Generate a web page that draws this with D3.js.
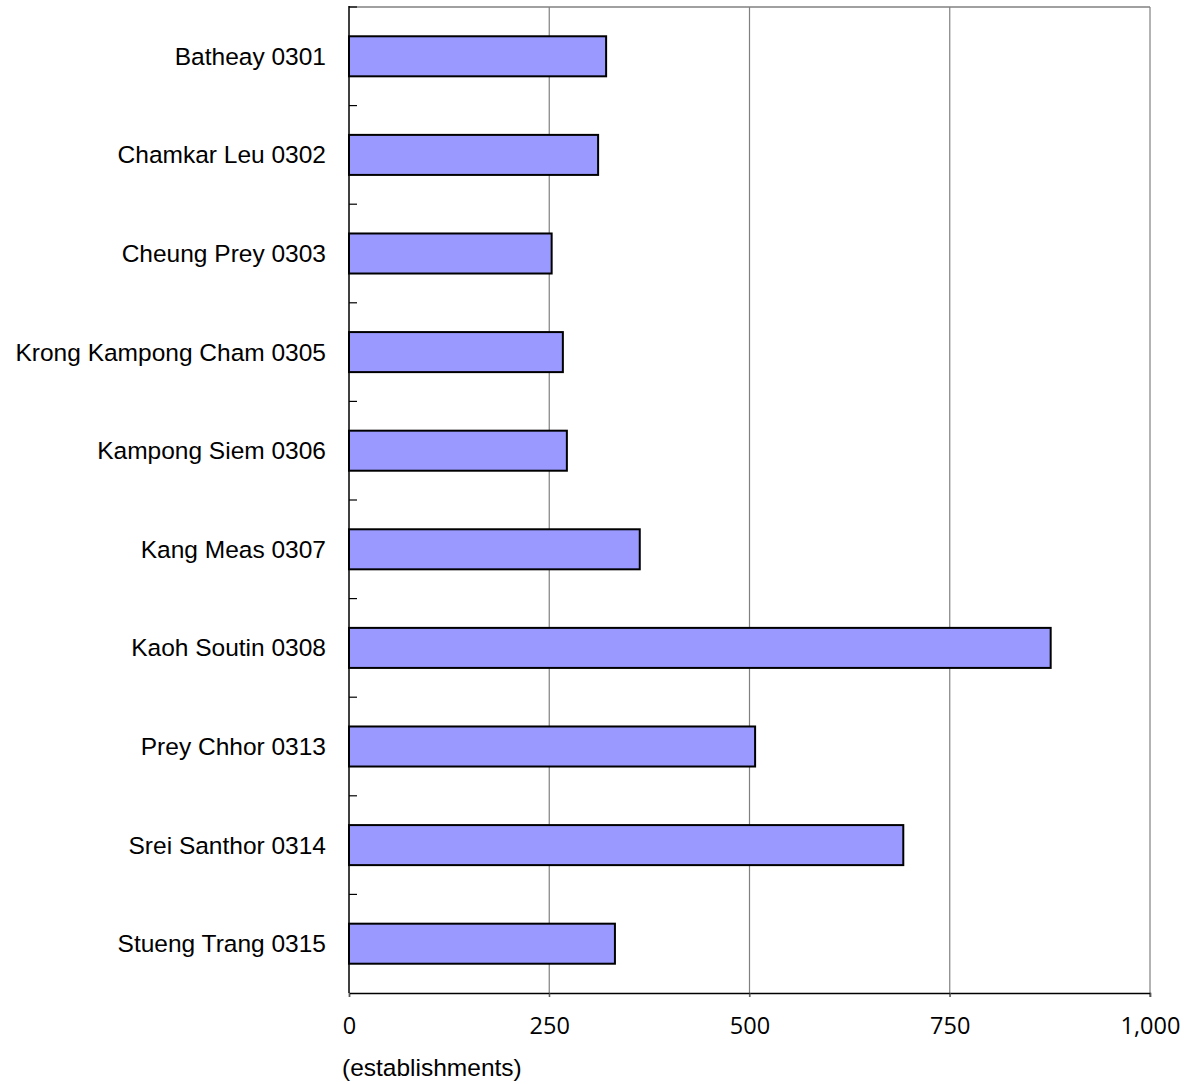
<!DOCTYPE html>
<html><head><meta charset="utf-8">
<script src="https://cdn.jsdelivr.net/npm/d3@7"></script>
<style>body{margin:0;background:#fff}</style>
</head><body>
<svg id="c" width="1187" height="1084"></svg>
<script>
const categories = ["Batheay 0301","Chamkar Leu 0302","Cheung Prey 0303","Krong Kampong Cham 0305","Kampong Siem 0306","Kang Meas 0307","Kaoh Soutin 0308","Prey Chhor 0313","Srei Santhor 0314","Stueng Trang 0315"];
const values = [321, 311, 253, 267, 272, 363, 876, 507, 692, 332];
const xTicks = [0, 250, 500, 750, 1000];
const unitLabel = "(establishments)";

const svg = d3.select("#c");
const L = 349, R = 1150, T = 7, B = 993;
const x = d3.scaleLinear().domain([0, 1000]).range([L, R]);
const y = d3.scaleBand().domain(categories).range([T, B]).paddingInner(0.594).paddingOuter(0.297);
const step = y.step();

// gridlines
svg.append("g").selectAll("line").data(xTicks.slice(1)).join("line")
  .attr("x1", d => x(d)).attr("x2", d => x(d)).attr("y1", T).attr("y2", B + 4)
  .attr("stroke", "#808080").attr("stroke-width", 1.2);
// top border
svg.append("line").attr("x1", L).attr("x2", R).attr("y1", T).attr("y2", T)
  .attr("stroke", "#808080").attr("stroke-width", 1.5);

// bars
svg.append("g").selectAll("rect").data(values).join("rect")
  .attr("x", x(0)).attr("y", (d, i) => y(categories[i]))
  .attr("width", d => x(d) - x(0)).attr("height", y.bandwidth())
  .attr("fill", "#9999ff").attr("stroke", "#000").attr("stroke-width", 2);

// x axis
const xAxis = d3.axisBottom(x).tickValues(xTicks).tickSize(4).tickFormat(d3.format(","));
const gx = svg.append("g").attr("transform", `translate(0,${B})`).call(xAxis);
gx.select(".domain").attr("stroke", "#000").attr("stroke-width", 1.5);
gx.selectAll(".tick line").attr("stroke", "#555");
gx.selectAll(".tick text").attr("font-family", "'Open Sans', 'Noto Sans', sans-serif")
  .attr("font-size", 23.5).attr("fill", "#000").attr("dy", 0).attr("y", 41);

// y axis line
svg.append("line").attr("x1", L).attr("x2", L).attr("y1", T - 1).attr("y2", B)
  .attr("stroke", "#000").attr("stroke-width", 1.5);
// inward boundary ticks
const bounds = d3.range(0, categories.length).map(i => T + i * step);
svg.append("g").selectAll("line").data(bounds).join("line")
  .attr("x1", L).attr("x2", L + 8).attr("y1", d => d).attr("y2", d => d)
  .attr("stroke", "#000").attr("stroke-width", 1.2);

// category labels
svg.append("g").selectAll("text").data(categories).join("text")
  .attr("x", L - 23).attr("y", d => y(d) + y.bandwidth() / 2)
  .attr("dy", "0.35em").attr("text-anchor", "end")
  .attr("font-family", "'Liberation Sans', Arial, sans-serif").attr("font-size", 24.5)
  .attr("fill", "#000").text(d => d);

svg.append("text").attr("x", 342).attr("y", 1076)
  .attr("font-family", "'Liberation Sans', Arial, sans-serif").attr("font-size", 24.5)
  .attr("fill", "#000").text(unitLabel);
</script>
</body></html>
